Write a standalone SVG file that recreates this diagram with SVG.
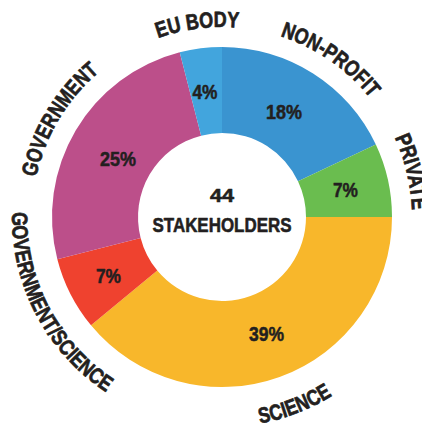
<svg xmlns="http://www.w3.org/2000/svg" xmlns:xlink="http://www.w3.org/1999/xlink" width="422" height="425" viewBox="0 0 422 425">
  <style>
    text { font-family: "Liberation Sans Narrow", "Liberation Sans", sans-serif; font-weight: 700; fill: #231f20; stroke: #231f20; stroke-width: 0.7px; stroke-linejoin: round; }
    .pct { font-size: 20px; text-anchor: middle; stroke-width: 0.5px; }
    .lbl { font-size: 22px; text-anchor: middle; }
    .ctr { text-anchor: middle; stroke-width: 0.6px; }
  </style>
  <defs>
    <path id="cwTop" d="M222,407 A190,190 0 0 1 222,27 A190,190 0 0 1 222,407"/>
    <path id="ccwBot" d="M222,7 A210,210 0 0 0 222,427 A210,210 0 0 0 222,7"/>
  </defs>
  <rect width="422" height="425" fill="#ffffff"/>
  <g id="nonprofit">
    <path d="M222,47 A170,170 0 0 1 375.82,144.62 L298.01,181.23 A84,84 0 0 0 222,133 Z" fill="#3a94d0"/>
    <text class="pct" x="284" y="119" textLength="36" lengthAdjust="spacingAndGlyphs">18%</text>
    <text class="lbl"><textPath xlink:href="#cwTop" href="#cwTop" startOffset="711.3" textLength="111" lengthAdjust="spacingAndGlyphs">NON-PROFIT</textPath></text>
  </g>
  <g id="private">
    <path d="M375.82,144.62 A170,170 0 0 1 392,217 L306,217 A84,84 0 0 0 298.01,181.23 Z" fill="#6abd4f"/>
    <text class="pct" x="345.5" y="197" textLength="25" lengthAdjust="spacingAndGlyphs">7%</text>
    <text class="lbl"><textPath xlink:href="#cwTop" href="#cwTop" startOffset="850.6" textLength="75" lengthAdjust="spacingAndGlyphs">PRIVATE</textPath></text>
  </g>
  <g id="science">
    <path d="M392,217 A170,170 0 0 1 91.01,325.36 L157.28,270.54 A84,84 0 0 0 306,217 Z" fill="#f8b72b"/>
    <text class="pct" x="266.5" y="341" textLength="35" lengthAdjust="spacingAndGlyphs">39%</text>
    <text class="lbl"><textPath xlink:href="#ccwBot" href="#ccwBot" startOffset="736.7" textLength="78" lengthAdjust="spacingAndGlyphs">SCIENCE</textPath></text>
  </g>
  <g id="govscience">
    <path d="M91.01,325.36 A170,170 0 0 1 57.34,259.28 L140.64,237.89 A84,84 0 0 0 157.28,270.54 Z" fill="#ef422f"/>
    <text class="pct" x="108.5" y="283" textLength="25" lengthAdjust="spacingAndGlyphs">7%</text>
    <text class="lbl"><textPath xlink:href="#ccwBot" href="#ccwBot" startOffset="431" textLength="212" lengthAdjust="spacingAndGlyphs">GOVERNMENT/SCIENCE</textPath></text>
  </g>
  <g id="government">
    <path d="M57.34,259.28 A170,170 0 0 1 179.72,52.34 L201.11,135.64 A84,84 0 0 0 140.64,237.89 Z" fill="#bc4f8a"/>
    <text class="pct" x="118" y="166" textLength="36" lengthAdjust="spacingAndGlyphs">25%</text>
    <text class="lbl"><textPath xlink:href="#cwTop" href="#cwTop" startOffset="400.9" textLength="125" lengthAdjust="spacingAndGlyphs">GOVERNMENT</textPath></text>
  </g>
  <g id="eubody">
    <path d="M179.72,52.34 A170,170 0 0 1 222,47 L222,133 A84,84 0 0 0 201.11,135.64 Z" fill="#42a5dd"/>
    <text class="pct" x="205" y="99" textLength="25" lengthAdjust="spacingAndGlyphs">4%</text>
    <text class="lbl"><textPath xlink:href="#cwTop" href="#cwTop" startOffset="572.4" textLength="82" lengthAdjust="spacingAndGlyphs">EU BODY</textPath></text>
  </g>
  <g id="center">
    <text class="ctr" x="222" y="202" font-size="19" textLength="24" lengthAdjust="spacingAndGlyphs">44</text>
    <text class="ctr" x="222" y="232" font-size="20.5" textLength="139" lengthAdjust="spacingAndGlyphs">STAKEHOLDERS</text>
  </g>
  <g id="connectors"/>
</svg>
